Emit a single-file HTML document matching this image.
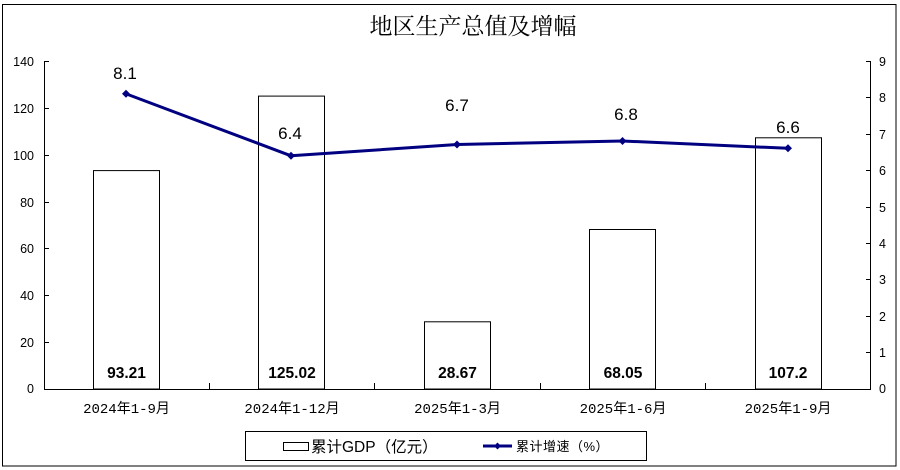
<!DOCTYPE html>
<html><head><meta charset="utf-8"><style>
html,body{margin:0;padding:0;background:#fff;}
svg{display:block;}
.ax{font-family:"Liberation Sans",Arial,sans-serif;font-size:12.5px;fill:#000;}
.cat{font-family:"Liberation Mono","Noto Sans CJK SC",monospace;font-size:14px;fill:#000;}
.val{font-family:"Liberation Sans",Arial,sans-serif;font-size:17px;fill:#000;}
.bv{font-family:"Liberation Sans",Arial,sans-serif;font-size:15.5px;font-weight:bold;fill:#000;}
</style></head><body>
<svg width="900" height="470" viewBox="0 0 900 470" xmlns="http://www.w3.org/2000/svg">
<rect x="2.5" y="4.5" width="893.5" height="461.5" fill="#fff" stroke="#000" stroke-width="1"/>
<text x="473" y="34" text-anchor="middle" style="font-family:'Noto Serif CJK SC','Noto Sans CJK SC',serif;font-size:23px;fill:#000;">地区生产总值及增幅</text>

<!-- bars -->
<g fill="#fff" stroke="#000" stroke-width="1">
<rect x="93.5" y="170.6" width="66" height="218.4"/>
<rect x="258.5" y="96.1" width="66" height="292.9"/>
<rect x="424.5" y="321.8" width="66" height="67.2"/>
<rect x="589.5" y="229.5" width="66" height="159.5"/>
<rect x="755.5" y="137.8" width="66" height="251.2"/>
</g>

<!-- axes -->
<g stroke="#000" stroke-width="1" fill="none">
<line x1="44.5" y1="61" x2="44.5" y2="389.5"/>
<line x1="870.5" y1="61" x2="870.5" y2="389.5"/>
<line x1="44" y1="389.5" x2="871" y2="389.5"/>
<!-- left ticks -->
<line x1="44" y1="61.5" x2="49" y2="61.5"/>
<line x1="44" y1="108.5" x2="49" y2="108.5"/>
<line x1="44" y1="155.5" x2="49" y2="155.5"/>
<line x1="44" y1="202.5" x2="49" y2="202.5"/>
<line x1="44" y1="248.5" x2="49" y2="248.5"/>
<line x1="44" y1="295.5" x2="49" y2="295.5"/>
<line x1="44" y1="342.5" x2="49" y2="342.5"/>
<!-- right ticks -->
<line x1="866" y1="61.5" x2="871" y2="61.5"/>
<line x1="866" y1="97.5" x2="871" y2="97.5"/>
<line x1="866" y1="134.5" x2="871" y2="134.5"/>
<line x1="866" y1="170.5" x2="871" y2="170.5"/>
<line x1="866" y1="207.5" x2="871" y2="207.5"/>
<line x1="866" y1="243.5" x2="871" y2="243.5"/>
<line x1="866" y1="279.5" x2="871" y2="279.5"/>
<line x1="866" y1="316.5" x2="871" y2="316.5"/>
<line x1="866" y1="352.5" x2="871" y2="352.5"/>
<!-- category ticks -->
<line x1="209.5" y1="383" x2="209.5" y2="389"/>
<line x1="374.5" y1="383" x2="374.5" y2="389"/>
<line x1="540.5" y1="383" x2="540.5" y2="389"/>
<line x1="705.5" y1="383" x2="705.5" y2="389"/>
</g>

<!-- left labels -->
<g class="ax" text-anchor="end">
<text x="34" y="66">140</text>
<text x="34" y="113">120</text>
<text x="34" y="160">100</text>
<text x="34" y="207">80</text>
<text x="34" y="253">60</text>
<text x="34" y="300">40</text>
<text x="34" y="347">20</text>
<text x="34" y="393">0</text>
</g>
<!-- right labels -->
<g class="ax" text-anchor="start">
<text x="879" y="66">9</text>
<text x="879" y="102">8</text>
<text x="879" y="139">7</text>
<text x="879" y="175">6</text>
<text x="879" y="212">5</text>
<text x="879" y="248">4</text>
<text x="879" y="284">3</text>
<text x="879" y="321">2</text>
<text x="879" y="357">1</text>
<text x="879" y="393">0</text>
</g>

<!-- category labels -->
<g class="cat" text-anchor="middle">
<text x="126.5" y="413">2024年1-9月</text>
<text x="292" y="413">2024年1-12月</text>
<text x="457.5" y="413">2025年1-3月</text>
<text x="623" y="413">2025年1-6月</text>
<text x="788" y="413">2025年1-9月</text>
</g>

<!-- bar values -->
<g class="bv" text-anchor="middle">
<text x="126.5" y="378">93.21</text>
<text x="292" y="378">125.02</text>
<text x="457.5" y="378">28.67</text>
<text x="623" y="378">68.05</text>
<text x="788" y="378">107.2</text>
</g>

<!-- line -->
<polyline points="126,93.8 291,155.8 457,144.5 622.5,141 788,148.3" fill="none" stroke="#000080" stroke-width="3" stroke-linejoin="round"/>
<g fill="#000080">
<polygon points="126,89.8 130,93.8 126,97.8 122,93.8"/>
<polygon points="291,151.8 295,155.8 291,159.8 287,155.8"/>
<polygon points="457,140.5 461,144.5 457,148.5 453,144.5"/>
<polygon points="622.5,137 626.5,141 622.5,145 618.5,141"/>
<polygon points="788,144.3 792,148.3 788,152.3 784,148.3"/>
</g>
<g class="val" text-anchor="middle">
<text x="125" y="79">8.1</text>
<text x="290" y="139">6.4</text>
<text x="457" y="111">6.7</text>
<text x="626" y="120">6.8</text>
<text x="788" y="133">6.6</text>
</g>

<!-- legend -->
<rect x="245.5" y="431.5" width="401" height="29" fill="#fff" stroke="#000" stroke-width="1"/>
<rect x="283.5" y="442.5" width="25" height="8" fill="#fff" stroke="#000" stroke-width="1"/>
<text x="311" y="452" style="font-family:'Liberation Sans','Noto Sans CJK SC',sans-serif;font-size:15.5px;fill:#000;">累计GDP（亿元）</text>
<line x1="483" y1="446" x2="512" y2="446" stroke="#000080" stroke-width="3"/>
<polygon points="497.5,442.5 501,446 497.5,449.5 494,446" fill="#000080"/>
<text x="516" y="451" style="font-family:'Liberation Sans','Noto Sans CJK SC',sans-serif;font-size:13px;letter-spacing:0.5px;fill:#000;">累计增速（%）</text>
</svg>
</body></html>
